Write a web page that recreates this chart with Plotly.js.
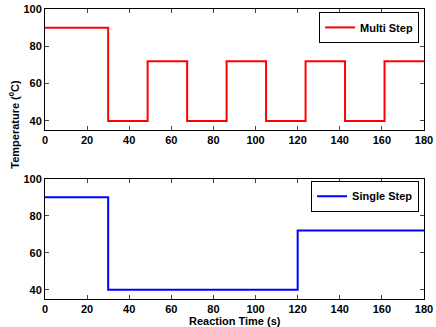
<!DOCTYPE html>
<html>
<head>
<meta charset="utf-8">
<script src="https://cdn.plot.ly/plotly-3.0.1.min.js"></script>
<style>
  body { margin: 0; background: #fff; }
  #chart { width: 436px; height: 327px; }
</style>
</head>
<body>
<div id="chart"></div>
<script>
// reaction time (s) and temperature (C) for each profile
var multiTime = [0, 30, 48.75, 67.5, 86.25, 105, 123.75, 142.5, 161.25, 180];
var multiTemp = [90, 40, 72, 40, 72, 40, 72, 40, 72, 72];

var singleTime = [0, 30, 120, 180];
var singleTemp = [90, 40, 72, 72];

var xTicks = [0, 20, 40, 60, 80, 100, 120, 140, 160, 180];
var yTicks = [40, 60, 80, 100];

var multi = {
  x: multiTime,
  y: multiTemp,
  name: 'Multi Step',
  mode: 'lines',
  line: {shape: 'hv', color: '#ff0000', width: 2},
  xaxis: 'x',
  yaxis: 'y',
  legend: 'legend'
};

var single = {
  x: singleTime,
  y: singleTemp,
  name: 'Single Step',
  mode: 'lines',
  line: {shape: 'hv', color: '#0000ff', width: 2},
  xaxis: 'x2',
  yaxis: 'y2',
  legend: 'legend2'
};

var font = {family: 'Liberation Sans, Arial, sans-serif', size: 11, color: '#000', weight: 'bold'};

function xax(anchor) {
  return {
    range: [0, 180], tickvals: xTicks, ticks: 'inside', ticklen: 4,
    showline: true, mirror: 'ticks', linecolor: '#000', linewidth: 1,
    showgrid: false, zeroline: false, tickfont: font, anchor: anchor,
    fixedrange: true
  };
}
function yax(anchor, domain) {
  return {
    range: [35, 100], tickvals: yTicks, ticks: 'inside', ticklen: 4,
    showline: true, mirror: 'ticks', linecolor: '#000', linewidth: 1,
    showgrid: false, zeroline: false, tickfont: font, anchor: anchor,
    domain: domain, fixedrange: true
  };
}

var legendStyle = {
  bgcolor: '#fff', bordercolor: '#000', borderwidth: 1, font: font,
  xanchor: 'right', yanchor: 'top', itemwidth: 30, tracegroupgap: 0
};

var layout = {
  width: 436,
  height: 327,
  margin: {l: 45, r: 12, t: 9, b: 28},
  paper_bgcolor: '#fff',
  plot_bgcolor: '#fff',
  showlegend: true,
  xaxis: xax('y'),
  yaxis: yax('x', [0.582, 1]),
  xaxis2: xax('y2'),
  yaxis2: yax('x2', [0, 0.415]),
  legend: Object.assign({x: 0.987, y: 0.99}, legendStyle),
  legend2: Object.assign({x: 0.987, y: 0.408}, legendStyle),
  annotations: [
    {
      text: 'Temperature (<sup>0</sup>C)', xref: 'paper', yref: 'paper',
      x: -0.082, y: 0.604, textangle: -90, showarrow: false,
      font: font, xanchor: 'center', yanchor: 'middle'
    },
    {
      text: 'Reaction Time (s)', xref: 'paper', yref: 'paper',
      x: 0.5, y: -0.076, showarrow: false,
      font: font, xanchor: 'center', yanchor: 'middle'
    }
  ]
};

Plotly.newPlot('chart', [multi, single], layout, {displayModeBar: false, staticPlot: true});
</script>
</body>
</html>
